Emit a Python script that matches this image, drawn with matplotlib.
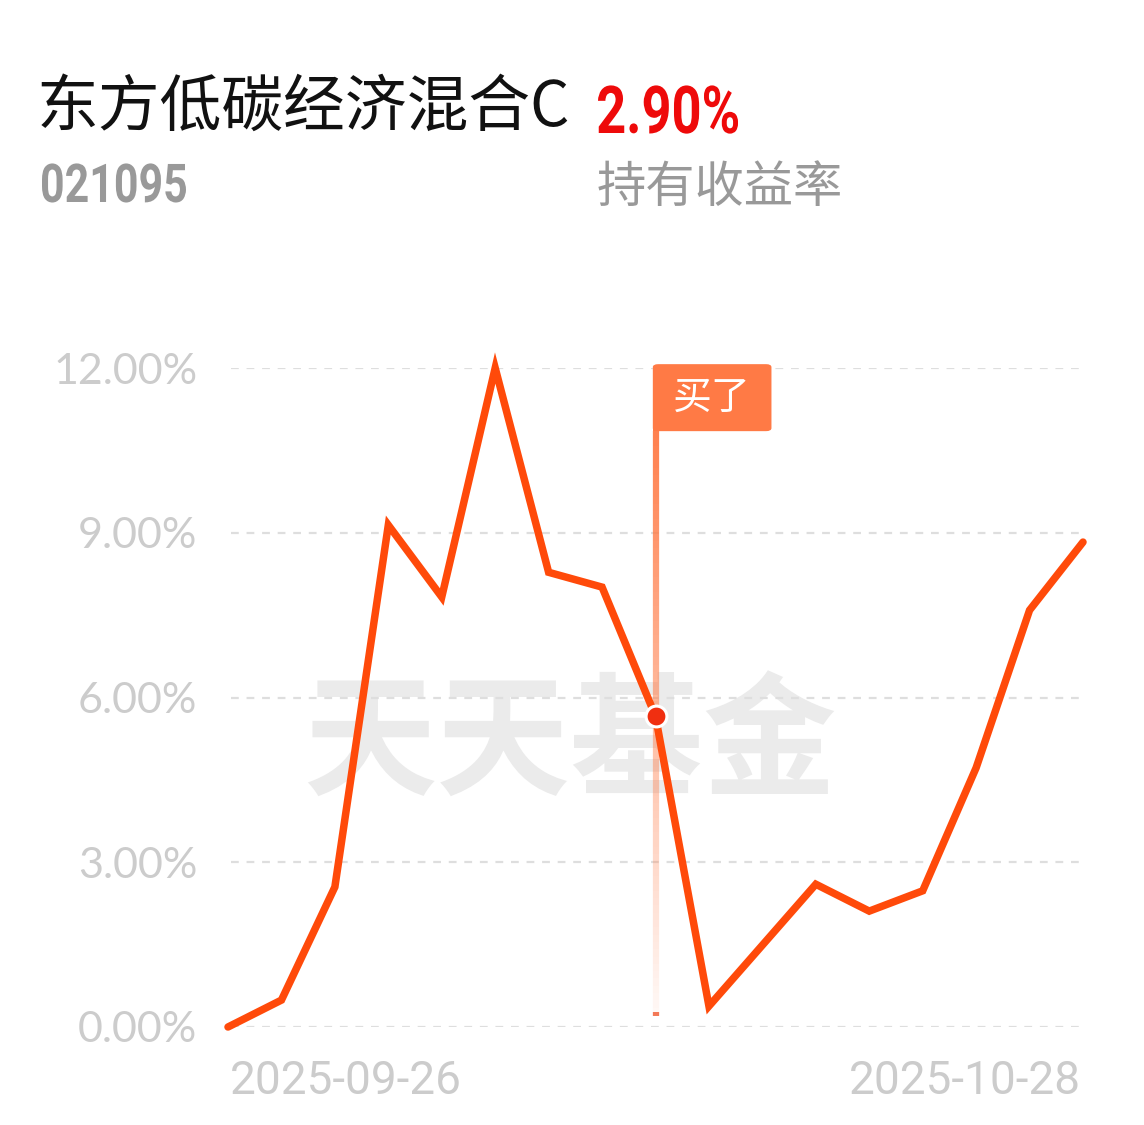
import numpy as np
import matplotlib.pyplot as plt
from matplotlib.collections import LineCollection
from matplotlib.font_manager import FontProperties
from matplotlib.patches import FancyBboxPatch, PathPatch
from matplotlib.textpath import TextPath
from matplotlib.transforms import Affine2D

plt.rcParams['font.family'] = ['Noto Sans CJK SC', 'DejaVu Sans']

# data
dates = ["2025-09-26", "2025-09-29", "2025-09-30", "2025-10-09", "2025-10-10",
         "2025-10-13", "2025-10-14", "2025-10-15", "2025-10-16", "2025-10-17",
         "2025-10-20", "2025-10-21", "2025-10-22", "2025-10-23", "2025-10-24",
         "2025-10-27", "2025-10-28"]
returns = [0.00, 0.49, 2.55, 9.14, 7.83, 12.00, 8.28, 8.01, 5.66, 0.38,
           1.49, 2.60, 2.11, 2.48, 4.72, 7.59, 8.83]
yticks = [0, 3, 6, 9, 12]
ytick_labels = ["0.00%", "3.00%", "6.00%", "9.00%", "12.00%"]
buy_date = "2025-10-16"

fund_name = "东方低碳经济混合C"
fund_code = "021095"
hold_return = "2.90%"

W, H = 1144, 1125
fig = plt.figure(figsize=(W / 100, H / 100), dpi=100)
fig.patch.set_facecolor("white")

def fx(px):
    return px / W

def fy(py):
    return 1 - py / H

def narrow_text(s, left, baseline, em, width, color):
    """bold condensed digits: Roboto squeezed horizontally to the given width (px)"""
    tp = TextPath((0, 0), s, size=em, prop=FontProperties(family="Roboto", weight="bold"))
    ext = tp.get_extents()
    sx = width / ext.width
    tr = Affine2D().translate(-ext.x0, 0).scale(sx, 1).translate(left, H - baseline)
    fig.add_artist(PathPatch(tp, transform=tr, facecolor=color, edgecolor="none"))

# header texts
fig.text(fx(37), fy(108), fund_name, fontsize=44.5, color="#111111",
         va="center", ha="left")
narrow_text(hold_return, 598, 133, 66, 140, "#ee0a0a")
narrow_text(fund_code, 42, 202, 53.5, 144, "#999999")
fig.text(fx(597), fy(188), "持有收益率", fontsize=35.5, color="#999999",
         va="center", ha="left")

# plot area
x0, x1 = 228, 1083
y0, y1 = 1027, 368
ax = fig.add_axes([fx(x0), fy(y0), fx(x1) - fx(x0), (y0 - y1) / H])
ax.set_facecolor("none")
x = np.arange(len(returns))
ax.set_xlim(0, len(returns) - 1)
ax.set_ylim(0, 12)
for s in ax.spines.values():
    s.set_visible(False)
ax.set_xticks([])
ax.set_yticks([])

# watermark
ax.text(0.40, 0.425, "天天基金", transform=ax.transAxes, fontsize=96,
        color="#ebebeb", fontweight="black", ha="center", va="center", zorder=0)

# dashed grid
for t, lab in zip(yticks, ytick_labels):
    ax.axhline(t, xmin=0.003, xmax=0.995, color="#dedede", lw=1.6,
               dashes=(3.5, 3.5), zorder=1)
    ax.text(-0.036, t, lab, transform=ax.get_yaxis_transform(), ha="right",
            va="center_baseline", fontsize=31, color="#cccccc",
            family=["Lato", "DejaVu Sans"])

# date labels
for xa, ha, lab in [(0.002, "left", dates[0]), (0.998, "right", dates[-1])]:
    ax.text(xa, -0.082, lab, transform=ax.transAxes, ha=ha, va="center",
            fontsize=33, color="#cccccc", family=["Roboto", "DejaVu Sans"])

# buy marker
bi = dates.index(buy_date)
by = returns[bi]
top, bottom = 10.85, 0.22
n = 80
ys = np.linspace(top, bottom, n + 1)
segs = [[(bi, ys[i]), (bi, ys[i + 1])] for i in range(n)]
alphas = np.linspace(0.95, 0.05, n)
cols = [(1.0, 0.48, 0.27, a) for a in alphas]
ax.add_collection(LineCollection(segs, colors=cols, linewidths=4.5, zorder=2))
ax.plot([bi, bi], [bottom - 0.02, bottom + 0.06], color="#f05a30", lw=4.5,
        alpha=0.8, zorder=2, solid_capstyle="butt")

box = FancyBboxPatch((bi - 0.05, 10.85), 2.22, 1.22,
                     boxstyle="round,pad=0,rounding_size=0.1",
                     mutation_aspect=0.55, facecolor="#ff7a45",
                     edgecolor="none", zorder=4, clip_on=False)
ax.add_patch(box)
ax.add_patch(plt.Rectangle((bi - 0.05, 10.85), 0.3, 0.3, facecolor="#ff7a45",
                           edgecolor="none", zorder=4, clip_on=False))
ax.text(bi + 1.06, 11.45, "买了", color="white", fontsize=28, ha="center",
        va="center", zorder=5)

# main line
ax.plot(x, returns, color="#ff4a0a", lw=5.4, zorder=3, clip_on=False,
        solid_joinstyle="miter", solid_capstyle="round")
ax.plot([bi], [by], "o", ms=15, color="#f02f10", mec="white", mew=2.2,
        zorder=6, clip_on=False)

fig.savefig("out.png", dpi=100, facecolor="white")
